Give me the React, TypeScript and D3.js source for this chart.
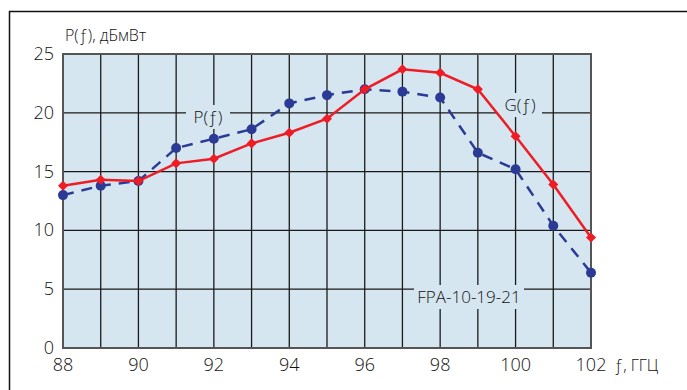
import { useEffect, useRef } from 'react';
import * as d3 from 'd3';

// frequency, GHz
const freqs = [88, 89, 90, 91, 92, 93, 94, 95, 96, 97, 98, 99, 100, 101, 102];
// G(f) – red solid line
const gValues = [13.8, 14.3, 14.2, 15.7, 16.1, 17.4, 18.3, 19.5, 22.0, 23.7, 23.4, 22.0, 18.0, 13.9, 9.4];
// P(f) – blue dashed line
const pValues = [13.0, 13.8, 14.2, 17.0, 17.8, 18.6, 20.8, 21.5, 22.0, 21.8, 21.3, 16.6, 15.2, 10.4, 6.4];
const xTicks = [88, 90, 92, 94, 96, 98, 100, 102];
const yTicks = [0, 5, 10, 15, 20, 25];

const FONT = '"Open Sans", Lato, sans-serif';
const WEIGHT = 300;
const BG = '#d5e6f0';

function App() {
  const svgRef = useRef<SVGSVGElement | null>(null);

  useEffect(() => {
    if (!svgRef.current) return;
    const svg = d3.select(svgRef.current);
    svg.selectAll('*').remove();

    const x = d3.scaleLinear().domain([88, 102]).range([63, 591]);
    const y = d3.scaleLinear().domain([0, 25]).range([348, 54]);

    // outer frame (top + left)
    svg.append('path')
      .attr('d', 'M9.5,390 V11.5 H687')
      .attr('fill', 'none')
      .attr('stroke', '#111')
      .attr('stroke-width', 1.5);

    // plot background
    svg.append('rect')
      .attr('x', x(88)).attr('y', y(25))
      .attr('width', x(102) - x(88)).attr('height', y(0) - y(25))
      .attr('fill', BG);

    // grid
    const g = svg.append('g');
    d3.range(89, 102).forEach(f => {
      g.append('line')
        .attr('x1', x(f)).attr('x2', x(f))
        .attr('y1', y(0)).attr('y2', y(25))
        .attr('stroke', '#1a1a1a').attr('stroke-width', 1.3);
    });
    [5, 10, 15, 20].forEach(v => {
      g.append('line')
        .attr('x1', x(88)).attr('x2', x(102))
        .attr('y1', y(v)).attr('y2', y(v))
        .attr('stroke', '#1a1a1a').attr('stroke-width', 1.3);
    });

    // plot border
    svg.append('rect')
      .attr('x', x(88)).attr('y', y(25))
      .attr('width', x(102) - x(88)).attr('height', y(0) - y(25))
      .attr('fill', 'none')
      .attr('stroke', '#555')
      .attr('stroke-width', 2);

    // labels inside plot with background knock-out
    const boxLabel = (text: string, cx: number, cy: number, w: number) => {
      svg.append('rect')
        .attr('x', cx - w / 2).attr('y', cy - 12)
        .attr('width', w).attr('height', 24)
        .attr('fill', BG);
      svg.append('text')
        .attr('x', cx).attr('y', cy + 6)
        .attr('text-anchor', 'middle')
        .attr('font-family', FONT)
        .attr('font-weight', WEIGHT)
        .attr('font-size', 17)
        .attr('fill', '#111')
        .text(text);
    };
    boxLabel('P(ƒ)', 208, 117, 44);
    boxLabel('G(ƒ)', 520, 105, 44);
    boxLabel('FPA-10-19-21', 469, 297, 110);

    const line = d3.line<number>()
      .x((_, i) => x(freqs[i]))
      .y(d => y(d));

    // P(f) dashed blue
    svg.append('path')
      .datum(pValues)
      .attr('d', line)
      .attr('fill', 'none')
      .attr('stroke', '#2b3a94')
      .attr('stroke-width', 2.5)
      .attr('stroke-dasharray', '11,8');
    svg.append('g').selectAll('circle')
      .data(pValues)
      .join('circle')
      .attr('cx', (_, i) => x(freqs[i]))
      .attr('cy', d => y(d))
      .attr('r', 5)
      .attr('fill', '#2b3a94');

    // G(f) solid red
    svg.append('path')
      .datum(gValues)
      .attr('d', line)
      .attr('fill', 'none')
      .attr('stroke', '#ee1c25')
      .attr('stroke-width', 2.5);
    const diamond = d3.symbol().type(d3.symbolDiamond2).size(64);
    svg.append('g').selectAll('path')
      .data(gValues)
      .join('path')
      .attr('d', diamond)
      .attr('transform', (d, i) => `translate(${x(freqs[i])},${y(d)})`)
      .attr('fill', '#ee1c25');

    // y ticks
    svg.append('g').selectAll('text')
      .data(yTicks)
      .join('text')
      .attr('x', 54)
      .attr('y', d => y(d) + 6)
      .attr('text-anchor', 'end')
      .attr('font-family', FONT)
      .attr('font-weight', WEIGHT)
      .attr('font-size', 18)
      .attr('fill', '#111')
      .text(d => d);

    // x ticks
    svg.append('g').selectAll('text')
      .data(xTicks)
      .join('text')
      .attr('x', d => x(d))
      .attr('y', 371)
      .attr('text-anchor', 'middle')
      .attr('font-family', FONT)
      .attr('font-weight', WEIGHT)
      .attr('font-size', 18)
      .attr('fill', '#111')
      .text(d => d);

    // axis titles
    svg.append('text')
      .attr('x', 65).attr('y', 41)
      .attr('font-family', FONT)
      .attr('font-weight', WEIGHT)
      .attr('font-size', 16)
      .attr('fill', '#111')
      .text('P(ƒ), дБмВт');
    svg.append('text')
      .attr('x', 614).attr('y', 371)
      .attr('font-family', FONT)
      .attr('font-weight', WEIGHT)
      .attr('font-size', 16)
      .attr('fill', '#111')
      .text('ƒ, ГГЦ');
  }, []);

  return (
    <svg
      ref={svgRef}
      width={687}
      height={390}
      style={{ position: 'absolute', left: 0, top: 0, background: '#fff' }}
    />
  );
}

export default App;
